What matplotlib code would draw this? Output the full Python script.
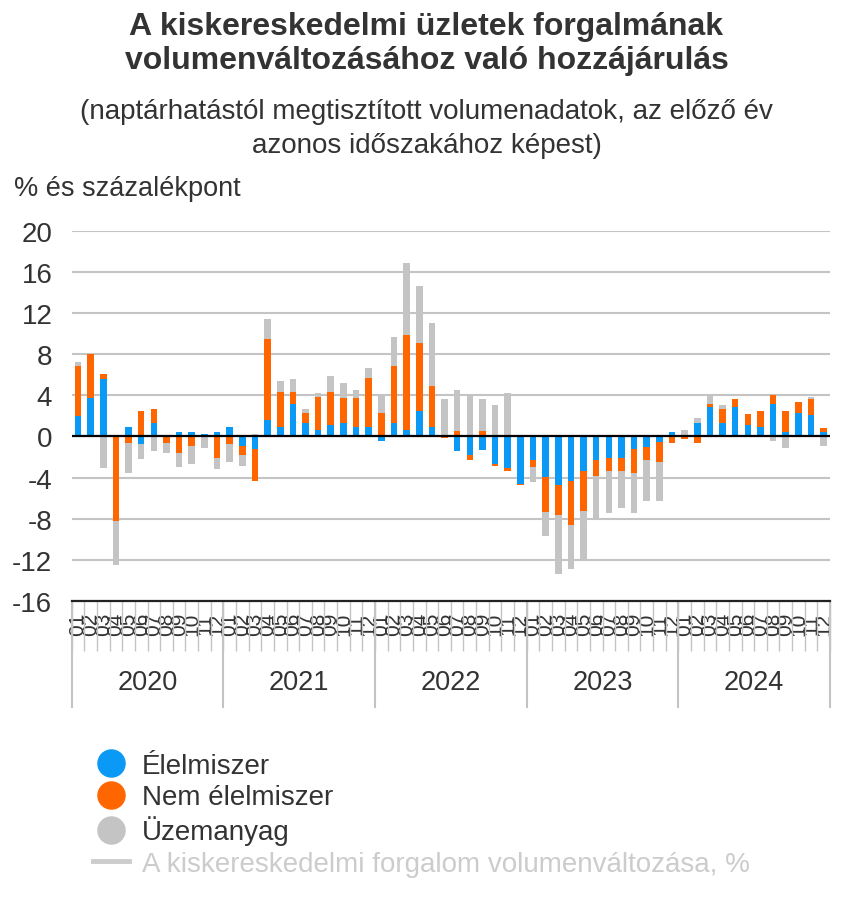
import numpy as np
import matplotlib
matplotlib.use("Agg")
import matplotlib.pyplot as plt
from matplotlib.lines import Line2D
import matplotlib.transforms as mtransforms

plt.rcParams['font.family'] = ['Liberation Sans', 'DejaVu Sans']
plt.rcParams['axes.unicode_minus'] = False

years = ["2020", "2021", "2022", "2023", "2024"]
months = ["01", "02", "03", "04", "05", "06", "07", "08", "09", "10", "11", "12"]

elelmiszer = [
    2.0, 3.7, 5.6, 0.0, 0.9, -0.7, 1.3, 0.1, 0.4, 0.4, 0.2, 0.4,
    0.9, -0.9, -1.2, 1.55, 0.9, 3.2, 1.3, 0.65, 1.1, 1.3, 0.9, 0.9,
    -0.4, 1.3, 0.65, 2.5, 0.9, 0.0, -1.4, -1.85, -1.35, -2.7, -3.1, -4.6,
    -2.3, -3.9, -4.75, -4.3, -3.4, -2.3, -2.1, -2.1, -1.2, -1.0, -0.5, 0.4,
    0.15, 1.3, 2.9, 1.3, 2.9, 1.1, 0.9, 3.15, 0.4, 2.25, 2.05, 0.4,
]
nem_elelmiszer = [
    4.8, 4.3, 0.5, -8.2, -0.6, 2.5, 1.4, -0.6, -1.6, -0.9, 0.0, -2.1,
    -0.7, -0.9, -3.1, 7.9, 3.4, 1.1, 1.0, 3.2, 3.2, 2.4, 2.8, 4.8,
    2.3, 5.5, 9.25, 6.55, 4.05, -0.2, 0.5, -0.4, 0.5, -0.2, -0.25, -0.15,
    -0.65, -3.4, -2.9, -4.3, -3.85, -1.5, -1.3, -1.3, -2.4, -1.25, -2.0, -0.65,
    -0.25, -0.65, 0.25, 1.35, 0.7, 1.1, 1.55, 0.9, 2.05, 1.1, 1.55, 0.45,
]
uzemanyag = [
    0.4, 0.0, -3.1, -4.3, -3.0, -1.5, -1.4, -1.0, -1.4, -1.8, -1.1, -1.1,
    -1.8, -1.1, 0.2, 2.0, 1.1, 1.3, 0.4, 0.4, 1.6, 1.5, 0.8, 1.0,
    1.7, 2.9, 7.0, 5.6, 6.1, 3.6, 4.0, 3.9, 3.1, 3.1, 4.2, 0.0,
    -1.5, -2.4, -5.7, -4.25, -4.9, -4.15, -4.05, -3.55, -3.85, -4.05, -3.8, 0.0,
    0.5, 0.45, 0.8, 0.45, 0.0, 0.0, 0.0, -0.4, -1.1, 0.0, 0.2, -0.9,
]

series_names = ["Élelmiszer", "Nem élelmiszer", "Üzemanyag"]
hidden_name = "A kiskereskedelmi forgalom volumenváltozása, %"
colors = ["#0a9af5", "#ff6600", "#c4c4c4"]
text_color = "#333333"

W, H = 853, 920
fig = plt.figure(figsize=(W / 100, H / 100), dpi=100)

left_px, right_px, top_px, bot_px = 71.7, 830.0, 231.7, 602.0
ax = fig.add_axes([left_px / W, 1 - bot_px / H, (right_px - left_px) / W, (bot_px - top_px) / H])

n = len(elelmiszer)
x = np.arange(n)
pos_base = np.zeros(n)
neg_base = np.zeros(n)
for vals, col in zip([elelmiszer, nem_elelmiszer, uzemanyag], colors):
    v = np.array(vals, dtype=float)
    bottoms = np.where(v >= 0, pos_base, neg_base)
    ax.bar(x, v, bottom=bottoms, width=0.52, color=col, linewidth=0, zorder=2)
    pos_base = pos_base + np.where(v > 0, v, 0)
    neg_base = neg_base + np.where(v < 0, v, 0)

ax.set_xlim(-0.5, n - 0.5)
ax.set_ylim(-16, 20)
ax.set_yticks(np.arange(-16, 21, 4))
ax.yaxis.grid(True, color="#c4c4c4", linewidth=1.5, zorder=0)
ax.set_axisbelow(True)
ax.axhline(0, color="black", linewidth=1.6, zorder=3)

for s in ["left", "right", "top"]:
    ax.spines[s].set_visible(False)
ax.spines["bottom"].set_color("#222222")
ax.spines["bottom"].set_linewidth(1.6)

ax.tick_params(axis="y", length=0, pad=14, labelsize=20, labelcolor=text_color)

month_labels = [m for _ in years for m in months]
ax.set_xticks(x)
ax.set_xticklabels(month_labels, rotation=90, fontsize=15, color=text_color)
ax.tick_params(axis="x", which="major", length=0, pad=8)
ax.set_xticks(np.arange(-0.5, n, 1), minor=True)
ax.tick_params(axis="x", which="minor", length=36, width=1.0, color="#c4c4c4")

trans = mtransforms.blended_transform_factory(ax.transData, ax.transAxes)
ax_h = bot_px - top_px
for k in range(len(years) + 1):
    xb = -0.5 + 12 * k
    ax.plot([xb, xb], [0, -(708 - bot_px) / ax_h], transform=trans, color="#c4c4c4",
            linewidth=1.5, clip_on=False, zorder=1)
for k, yr in enumerate(years):
    ax.text(5.5 + 12 * k, -(683 - bot_px) / ax_h, yr, transform=trans, ha="center", va="center",
            fontsize=19.5, color=text_color)

# titles
fig.text(0.5, 1 - 27 / H, "A kiskereskedelmi üzletek forgalmának", ha="center", va="center",
         fontsize=23, fontweight="bold", color=text_color)
fig.text(0.5, 1 - 61 / H, "volumenváltozásához való hozzájárulás", ha="center", va="center",
         fontsize=23, fontweight="bold", color=text_color)
fig.text(0.5, 1 - 112 / H, "(naptárhatástól megtisztított volumenadatok, az előző év", ha="center",
         va="center", fontsize=20, color=text_color)
fig.text(0.5, 1 - 146 / H, "azonos időszakához képest)", ha="center", va="center",
         fontsize=20, color=text_color)
fig.text(14 / W, 1 - 189 / H, "% és százalékpont", ha="left", va="center",
         fontsize=19.5, color=text_color)

handles = [Line2D([], [], marker="o", linestyle="none", markersize=19.5, color=c) for c in colors]
handles.append(Line2D([], [], color="#cccccc", linewidth=3.5))
leg = fig.legend(handles, series_names + [hidden_name], loc="upper left",
                 bbox_to_anchor=(93 / W, 1 - 754 / H), frameon=False, fontsize=20,
                 handlelength=1.3, handletextpad=0.45, labelspacing=0.19,
                 borderpad=0, borderaxespad=0)
for t in leg.get_texts()[:3]:
    t.set_color(text_color)
leg.get_texts()[3].set_color("#cccccc")

fig.savefig("out.png", dpi=100)
